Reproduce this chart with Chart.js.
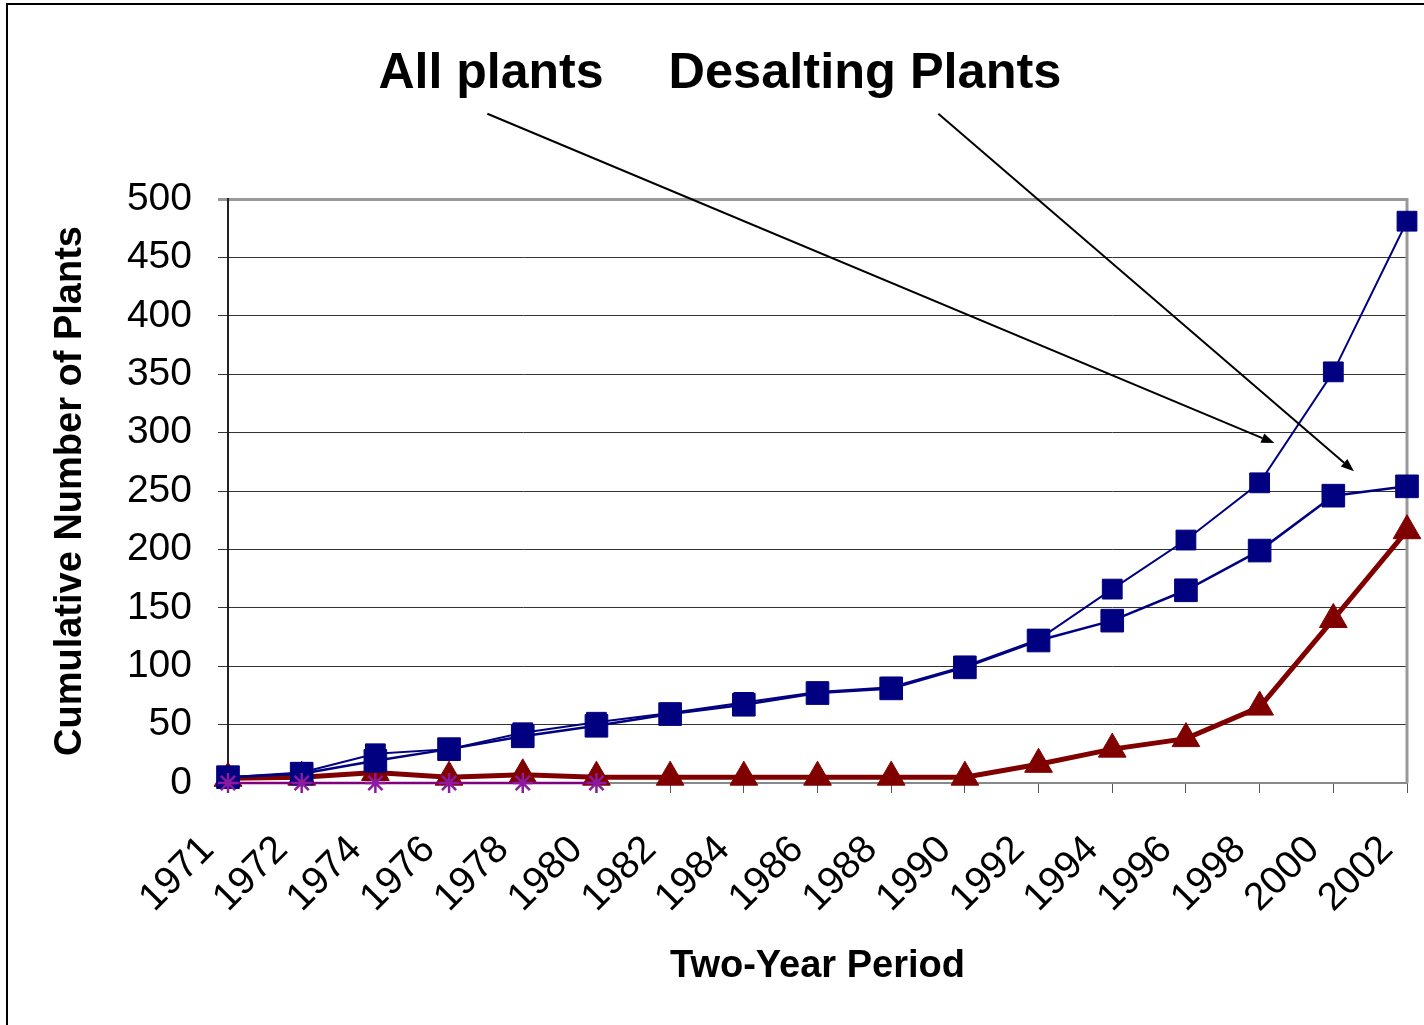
<!DOCTYPE html>
<html>
<head>
<meta charset="utf-8">
<title>Cumulative Number of Plants</title>
<script src="https://cdn.jsdelivr.net/npm/chart.js@4.4.1/dist/chart.umd.min.js"></script>
<style>
  html, body { margin: 0; padding: 0; background: #fff; }
  canvas { display: block; }
</style>
</head>
<body>
<canvas id="plantsChart" width="1424" height="1025"></canvas>
<script>
// Two-year periods on the x axis
const periods = ["1971", "1972", "1974", "1976", "1978", "1980", "1982", "1984", "1986",
                 "1988", "1990", "1992", "1994", "1996", "1998", "2000", "2002"];

// Series values
const allPlants       = [5, 9, 25, 29, 43, 52, 60, 69, 78, 82, 100, 123, 166, 208, 257, 352, 481];
const desaltingPlants = [5, 8, 19, 29, 40, 49, 59, 67, 77, 81, 99, 122, 139, 165, 199, 246, 254];
const series3         = [4, 5, 9, 5, 7, 5, 5, 5, 5, 5, 5, 16, 29, 38, 65, 140, 216];
const series4         = [0, 0, 0, 0, 0, 0];

const yTickValues = [0, 50, 100, 150, 200, 250, 300, 350, 400, 450, 500];

const calloutLabels = ["All plants", "Desalting Plants"];

const FONT = "'Liberation Sans', Arial, Helvetica, sans-serif";

// Callout text + arrow; arrows given in data units (category index, value)
const callouts = [
  { text: calloutLabels[0], textX: 491, textY: 88, from: [3.52, 573], to: [14.2, 291] },
  { text: calloutLabels[1], textX: 865, textY: 88, from: [9.64, 573], to: [15.28, 267] }
];

const framePlugin = {
  id: "frame",
  beforeDatasetsDraw(chart) {
    // grey plot-area border on the right
    const { ctx, chartArea } = chart;
    ctx.save();
    ctx.strokeStyle = "#999";
    ctx.lineWidth = 3;
    ctx.beginPath();
    ctx.moveTo(chartArea.right, chartArea.top - 1);
    ctx.lineTo(chartArea.right, chartArea.bottom);
    ctx.stroke();
    ctx.restore();
  },
  afterDraw(chart) {
    const { ctx, scales: { x, y } } = chart;
    ctx.save();

    // outer frame (top + left only)
    ctx.strokeStyle = "#000";
    ctx.lineWidth = 2;
    ctx.beginPath();
    ctx.moveTo(7, chart.height);
    ctx.lineTo(7, 4);
    ctx.lineTo(chart.width, 4);
    ctx.stroke();

    ctx.fillStyle = "#000";
    ctx.textAlign = "center";
    ctx.textBaseline = "alphabetic";
    callouts.forEach((c, i) => {
      ctx.font = "bold " + (i === 0 ? 50 : 50.5) + "px " + FONT;
      ctx.fillText(c.text, c.textX, c.textY);

      const x0 = x.getPixelForValue(c.from[0]), y0 = y.getPixelForValue(c.from[1]);
      const x1 = x.getPixelForValue(c.to[0]),   y1 = y.getPixelForValue(c.to[1]);
      const ang = Math.atan2(y1 - y0, x1 - x0);
      const head = 13, half = 5;

      ctx.strokeStyle = "#000";
      ctx.lineWidth = 2;
      ctx.beginPath();
      ctx.moveTo(x0, y0);
      ctx.lineTo(x1 - Math.cos(ang) * head, y1 - Math.sin(ang) * head);
      ctx.stroke();

      ctx.beginPath();
      ctx.moveTo(x1, y1);
      ctx.lineTo(x1 - Math.cos(ang) * head - Math.sin(ang) * half,
                 y1 - Math.sin(ang) * head + Math.cos(ang) * half);
      ctx.lineTo(x1 - Math.cos(ang) * head + Math.sin(ang) * half,
                 y1 - Math.sin(ang) * head - Math.cos(ang) * half);
      ctx.closePath();
      ctx.fill();
    });
    ctx.restore();
  }
};

new Chart(document.getElementById("plantsChart").getContext("2d"), {
  type: "line",
  data: {
    labels: periods,
    datasets: [
      {
        label: "Series 4",
        data: series4,
        order: 0,
        clip: false,
        borderColor: "#800080",
        backgroundColor: "#800080",
        borderWidth: 2.5,
        pointStyle: "star",
        pointRadius: 10,
        pointBorderWidth: 2.5,
        pointBorderColor: "#8b1a9e"
      },
      {
        label: "All plants",
        data: allPlants,
        order: 1,
        clip: false,
        borderColor: "#000080",
        backgroundColor: "#000080",
        borderWidth: 2,
        pointStyle: "rect",
        pointRadius: 14,
        pointBorderWidth: 1
      },
      {
        label: "Desalting Plants",
        data: desaltingPlants,
        order: 2,
        clip: false,
        borderColor: "#000080",
        backgroundColor: "#000080",
        borderWidth: 2.5,
        pointStyle: "rect",
        pointRadius: 16,
        pointBorderWidth: 1
      },
      {
        label: "Series 3",
        data: series3,
        order: 3,
        clip: false,
        borderColor: "#800000",
        backgroundColor: "#800000",
        borderWidth: 5,
        pointStyle: "triangle",
        pointRadius: 16,
        pointBorderWidth: 1
      }
    ]
  },
  options: {
    responsive: false,
    animation: false,
    layout: { padding: { left: 0, right: 11, top: 199, bottom: 0 } },
    plugins: {
      legend: { display: false },
      tooltip: { enabled: false }
    },
    scales: {
      x: {
        offset: false,
        afterFit: s => { s.height = 242; s.paddingLeft = 0; s.paddingRight = 0; },
        border: { color: "#888", width: 2 },
        grid: { drawOnChartArea: false, drawTicks: true, tickLength: 10, color: "#555" },
        ticks: {
          color: "#000",
          font: { family: FONT, size: 39 },
          minRotation: 45,
          maxRotation: 45,
          autoSkip: false,
          labelOffset: -20,
          padding: 34
        },
        title: {
          display: true,
          text: "Two-Year Period",
          color: "#000",
          font: { family: FONT, size: 38, weight: "bold" },
          padding: { top: 0, bottom: 36 }
        }
      },
      y: {
        min: 0,
        max: 500,
        afterBuildTicks: s => { s.ticks = yTickValues.map(v => ({ value: v })); },
        afterFit: s => { s.width = 228; },
        border: { color: "#222", width: 2 },
        grid: {
          color: c => (c.tick && c.tick.value === 500) ? "#999" : "#333",
          lineWidth: c => (c.tick && c.tick.value === 500) ? 3 : 1,
          tickLength: 10
        },
        ticks: {
          color: "#000",
          font: { family: FONT, size: 39 },
          padding: 26
        },
        title: {
          display: true,
          text: "Cumulative Number of Plants",
          color: "#000",
          font: { family: FONT, size: 38, weight: "bold" },
          padding: { top: 48, bottom: 0 }
        }
      }
    }
  },
  plugins: [framePlugin]
});
</script>
</body>
</html>
